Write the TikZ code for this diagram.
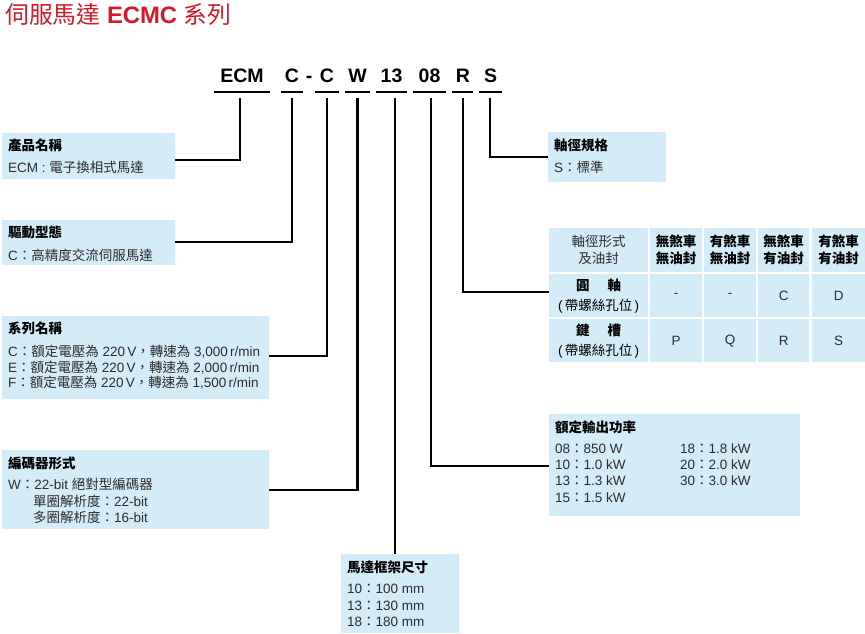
\documentclass[tikz,border=0pt]{standalone}
\usepackage{fontspec}
\setmainfont{Liberation Sans}
\newfontfamily\cjk{Noto Sans CJK TC}
\newcommand\zh[1]{{\cjk #1}}
\definecolor{boxblue}{RGB}{212,235,248}
\definecolor{titlered}{RGB}{212,26,40}
\definecolor{bodygray}{RGB}{45,45,45}
\begin{document}
\begin{tikzpicture}[x=1pt,y=-1pt,
  infobox/.style={fill=boxblue,draw=none,inner sep=0,anchor=north west},
  cell/.style={fill=boxblue,draw=none,inner sep=0,anchor=north west,align=center,
    font=\fontsize{13.5}{17}\selectfont,text=black},
  head/.style={anchor=base west,inner sep=0,text=black,font=\fontsize{13.5}{16}\selectfont\bfseries\cjk},
  body/.style={anchor=base west,inner sep=0,text=bodygray,font=\fontsize{13.5}{16}\selectfont},
  code/.style={anchor=base,inner sep=0,font=\fontsize{19.5}{22}\selectfont\bfseries,text=black},
  uline/.style={fill=black,draw=none,inner sep=0,minimum height=2.2pt},
  conn/.style={draw=black,line width=2.2pt}]
\useasboundingbox (0,0) rectangle (865,634);

% title
\node[anchor=base west,inner sep=0,text=titlered,font=\fontsize{23.8}{27}\selectfont] (title) at (5,23.5)
  {\zh{伺服馬達} \textbf{ECMC} \zh{系列}};

% code letters
\node[code] (cECM) at (242,83) {ECM};
\node[code] (cC1) at (292,83) {C};
\node[code] (cdash) at (309,83) {-};
\node[code] (cC2) at (327,83) {C};
\node[code] (cW) at (357.5,83) {W};
\node[code] (c13) at (391.5,83) {13};
\node[code] (c08) at (429.5,83) {08};
\node[code] (cR) at (463,83) {R};
\node[code] (cS) at (490.5,83) {S};

% underlines
\node[uline,minimum width=56pt] (uECM) at (242,92) {};
\node[uline,minimum width=22pt] (uC1) at (292,92) {};
\node[uline,minimum width=24pt] (uC2) at (327,92) {};
\node[uline,minimum width=25pt] (uW) at (357.5,92) {};
\node[uline,minimum width=31pt] (u13) at (391.5,92) {};
\node[uline,minimum width=33pt] (u08) at (429.5,92) {};
\node[uline,minimum width=21pt] (uR) at (462.5,92) {};
\node[uline,minimum width=23pt] (uS) at (490.5,92) {};

% boxes
\node[infobox,minimum width=173pt,minimum height=46pt] (b1) at (2,133) {};
\node[infobox,minimum width=173pt,minimum height=45pt] (b2) at (2,220) {};
\node[infobox,minimum width=267pt,minimum height=83pt] (b3) at (2,316) {};
\node[infobox,minimum width=267pt,minimum height=79pt] (b4) at (2,450) {};
\node[infobox,minimum width=118pt,minimum height=79pt] (b5) at (341,554) {};
\node[infobox,minimum width=251pt,minimum height=102pt] (b6) at (549,414) {};
\node[infobox,minimum width=118pt,minimum height=50pt] (b7) at (548,132) {};

% box texts
\node[head] (h1) at (8,150) {產品名稱};
\node[body] (t1) at (8,172) {ECM : \zh{電子換相式馬達}};
\node[head] (h2) at (8,237) {驅動型態};
\node[body] (t2) at (8,260) {C\zh{：高精度交流伺服馬達}};
\node[head] (h3) at (8,333) {系列名稱};
\node[body] (t3a) at (8,356) {C\zh{：額定電壓為} 220\,V\zh{，轉速為} 3,000\,r/min};
\node[body] (t3b) at (8,372) {E\zh{：額定電壓為} 220\,V\zh{，轉速為} 2,000\,r/min};
\node[body] (t3c) at (8,387) {F\zh{：額定電壓為} 220\,V\zh{，轉速為} 1,500\,r/min};
\node[head] (h4) at (8,468) {編碼器形式};
\node[body] (t4a) at (8,489) {W\zh{：}22-bit \zh{絕對型編碼器}};
\node[body] (t4b) at (33,506) {\zh{單圈解析度：}22-bit};
\node[body] (t4c) at (33,522) {\zh{多圈解析度：}16-bit};
\node[head] (h5) at (347,572) {馬達框架尺寸};
\node[body] (t5a) at (347,593) {10\zh{：}100 mm};
\node[body] (t5b) at (347,610) {13\zh{：}130 mm};
\node[body] (t5c) at (347,626) {18\zh{：}180 mm};
\node[head] (h6) at (555,432) {額定輸出功率};
\node[body] (t6a) at (555,453) {08\zh{：}850 W};
\node[body] (t6b) at (555,469) {10\zh{：}1.0 kW};
\node[body] (t6c) at (555,485) {13\zh{：}1.3 kW};
\node[body] (t6d) at (555,502) {15\zh{：}1.5 kW};
\node[body] (t6e) at (680,453) {18\zh{：}1.8 kW};
\node[body] (t6f) at (680,469) {20\zh{：}2.0 kW};
\node[body] (t6g) at (680,485) {30\zh{：}3.0 kW};
\node[head] (h7) at (554,150) {軸徑規格};
\node[body] (t7) at (554,172) {S\zh{：標準}};

% table
\node[cell,minimum width=99pt,minimum height=44pt,text=bodygray] (g00) at (549,228) {\zh{軸徑形式}\\\zh{及油封}};
\node[cell,minimum width=52pt,minimum height=44pt] (g01) at (650,228) {\bfseries\zh{無煞車}\\\bfseries\zh{無油封}};
\node[cell,minimum width=52pt,minimum height=44pt] (g02) at (704,228) {\bfseries\zh{有煞車}\\\bfseries\zh{無油封}};
\node[cell,minimum width=51pt,minimum height=44pt] (g03) at (758,228) {\bfseries\zh{無煞車}\\\bfseries\zh{有油封}};
\node[cell,minimum width=53pt,minimum height=44pt] (g04) at (812,228) {\bfseries\zh{有煞車}\\\bfseries\zh{有油封}};
\node[cell,minimum width=99pt,minimum height=43pt,font=\fontsize{13.5}{20}\selectfont] (g10) at (549,274)
  {\bfseries\zh{圓}\hspace{18pt}\zh{軸}\\(\,\zh{帶螺絲孔位}\,)};
\node[cell,minimum width=52pt,minimum height=43pt,text=bodygray] (g11) at (650,274) {-};
\node[cell,minimum width=52pt,minimum height=43pt,text=bodygray] (g12) at (704,274) {-};
\node[cell,minimum width=51pt,minimum height=43pt,text=bodygray] (g13) at (758,274) {C};
\node[cell,minimum width=53pt,minimum height=43pt,text=bodygray] (g14) at (812,274) {D};
\node[cell,minimum width=99pt,minimum height=43pt,font=\fontsize{13.5}{20}\selectfont] (g20) at (549,319)
  {\bfseries\zh{鍵}\hspace{18pt}\zh{槽}\\(\,\zh{帶螺絲孔位}\,)};
\node[cell,minimum width=52pt,minimum height=43pt,text=bodygray] (g21) at (650,319) {P};
\node[cell,minimum width=52pt,minimum height=43pt,text=bodygray] (g22) at (704,319) {Q};
\node[cell,minimum width=51pt,minimum height=43pt,text=bodygray] (g23) at (758,319) {R};
\node[cell,minimum width=53pt,minimum height=43pt,text=bodygray] (g24) at (812,319) {S};

% connector end points on box edges
\coordinate (p1) at (b1.east |- 0,160);
\coordinate (p2) at (b2.east |- 0,242);
\coordinate (p3) at (b3.east |- 0,356);
\coordinate (p4) at (b4.east |- 0,490);
\coordinate (p5) at (395,554);
\coordinate (p6) at (b6.west |- 0,466);
\coordinate (p7) at (g10.west |- 0,292);
\coordinate (p8) at (b7.west |- 0,157);

% connectors
\draw[conn] ([xshift=-2pt,yshift=-5pt]uECM.south) |- (p1);
\draw[conn] ([yshift=-5pt]uC1.south) |- (p2);
\draw[conn] ([yshift=-5pt]uC2.south) |- (p3);
\draw[conn] ([yshift=-5pt]uW.south) |- (p4);
\draw[conn] ([xshift=3.5pt,yshift=-5pt]u13.south) -- (p5);
\draw[conn] ([xshift=1.5pt,yshift=-5pt]u08.south) |- (p6);
\draw[conn] ([xshift=0.5pt,yshift=-5pt]uR.south) |- (p7);
\draw[conn] ([xshift=-0.5pt,yshift=-5pt]uS.south) |- (p8);
\end{tikzpicture}
\end{document}
